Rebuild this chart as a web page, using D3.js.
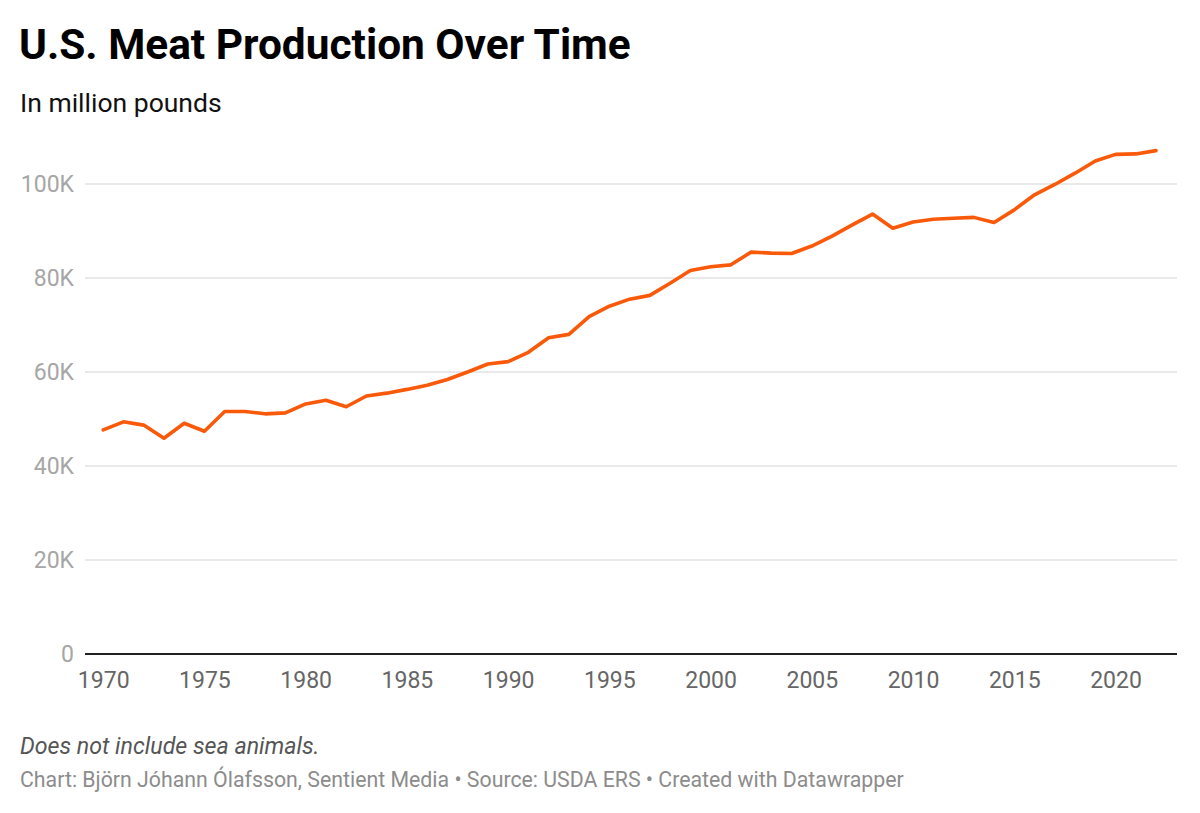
<!DOCTYPE html>
<html>
<head>
<meta charset="utf-8">
<script src="https://cdn.jsdelivr.net/npm/d3@7"></script>
<style>
    body { margin: 0; background: #fff; }
    svg { display: block; font-family: Roboto, sans-serif; }
</style>
</head>
<body>
<svg width="1200" height="813"></svg>
<script>
    "use strict";

    var years = [1970, 1971, 1972, 1973, 1974, 1975, 1976, 1977, 1978, 1979,
        1980, 1981, 1982, 1983, 1984, 1985, 1986, 1987, 1988, 1989,
        1990, 1991, 1992, 1993, 1994, 1995, 1996, 1997, 1998, 1999,
        2000, 2001, 2002, 2003, 2004, 2005, 2006, 2007, 2008, 2009,
        2010, 2011, 2012, 2013, 2014, 2015, 2016, 2017, 2018, 2019,
        2020, 2021, 2022];

    // million pounds
    var production = [47700, 49400, 48700, 45900, 49100, 47400, 51600, 51600, 51100, 51300,
        53200, 54000, 52600, 54900, 55500, 56300, 57200, 58400, 60000, 61700,
        62200, 64200, 67300, 68000, 71800, 74000, 75500, 76300, 78900, 81600,
        82400, 82800, 85500, 85300, 85200, 86800, 88900, 91300, 93600, 90600,
        91900, 92500, 92700, 92900, 91800, 94500, 97700, 99900, 102300, 104900,
        106300, 106400, 107100];

    var yTicks = [0, 20000, 40000, 60000, 80000, 100000];
    var xTicks = [1970, 1975, 1980, 1985, 1990, 1995, 2000, 2005, 2010, 2015, 2020];

    var data = years.map(function (d, i) {
        return { year: d, value: production[i] };
    });

    var svg = d3.select("svg"),
        margin = { top: 184, right: 23, bottom: 159, left: 85 },
        width = +svg.attr("width") - margin.left - margin.right,
        height = +svg.attr("height") - margin.top - margin.bottom;

    var x = d3.scaleLinear().domain([1969.1, 2022]).range([0, 1156 - margin.left]),
        y = d3.scaleLinear().domain([0, 100000]).range([654 - margin.top, 0]);

    svg.append("text")
        .attr("x", 19).attr("y", 59)
        .attr("font-size", 42.4).attr("font-weight", 700)
        .attr("fill", "#000")
        .text("U.S. Meat Production Over Time");

    svg.append("text")
        .attr("x", 20).attr("y", 112)
        .attr("font-size", 26.5)
        .attr("fill", "#111")
        .text("In million pounds");

    var g = svg.append("g")
        .attr("transform", "translate(" + margin.left + "," + margin.top + ")");

    // gridlines
    g.selectAll(".grid")
        .data(yTicks)
        .enter()
        .append("line")
        .attr("class", "grid")
        .attr("x1", 0)
        .attr("x2", 1177 - margin.left)
        .attr("y1", function (d) { return y(d); })
        .attr("y2", function (d) { return y(d); })
        .attr("stroke", function (d) { return d === 0 ? "#222" : "#e2e2e2"; })
        .attr("stroke-width", function (d) { return d === 0 ? 2 : 1.3; });

    g.selectAll(".ylab")
        .data(yTicks)
        .enter()
        .append("text")
        .attr("class", "ylab")
        .attr("x", -11)
        .attr("y", function (d) { return y(d); })
        .attr("dy", "0.35em")
        .attr("text-anchor", "end")
        .attr("font-size", 23)
        .attr("fill", "#a6a6a6")
        .text(function (d) { return d === 0 ? "0" : (d / 1000) + "K"; });

    var xAxis = d3.axisBottom(x)
        .tickValues(xTicks)
        .tickSize(0)
        .tickPadding(0)
        .tickFormat(d3.format("d"));

    var xg = g.append("g")
        .attr("transform", "translate(0," + y(0) + ")")
        .call(xAxis);
    xg.select(".domain").remove();
    xg.selectAll("text")
        .attr("y", 18)
        .attr("dy", "0.71em")
        .attr("font-size", 23)
        .attr("font-family", "Roboto, sans-serif")
        .attr("fill", "#666");

    var line = d3.line()
        .x(function (d) { return x(d.year); })
        .y(function (d) { return y(d.value); });

    g.append("path")
        .datum(data)
        .attr("fill", "none")
        .attr("stroke", "#f95a0a")
        .attr("stroke-width", 3.6)
        .attr("stroke-linejoin", "round")
        .attr("stroke-linecap", "round")
        .attr("d", line);

    svg.append("text")
        .attr("x", 20).attr("y", 754)
        .attr("font-size", 23.2).attr("font-style", "italic")
        .attr("fill", "#555")
        .text("Does not include sea animals.");

    svg.append("text")
        .attr("x", 20).attr("y", 787)
        .attr("font-size", 21.3)
        .attr("fill", "#8c8c8c")
        .text("Chart: Björn Jóhann Ólafsson, Sentient Media • Source: USDA ERS • Created with Datawrapper");
</script>
</body>
</html>
